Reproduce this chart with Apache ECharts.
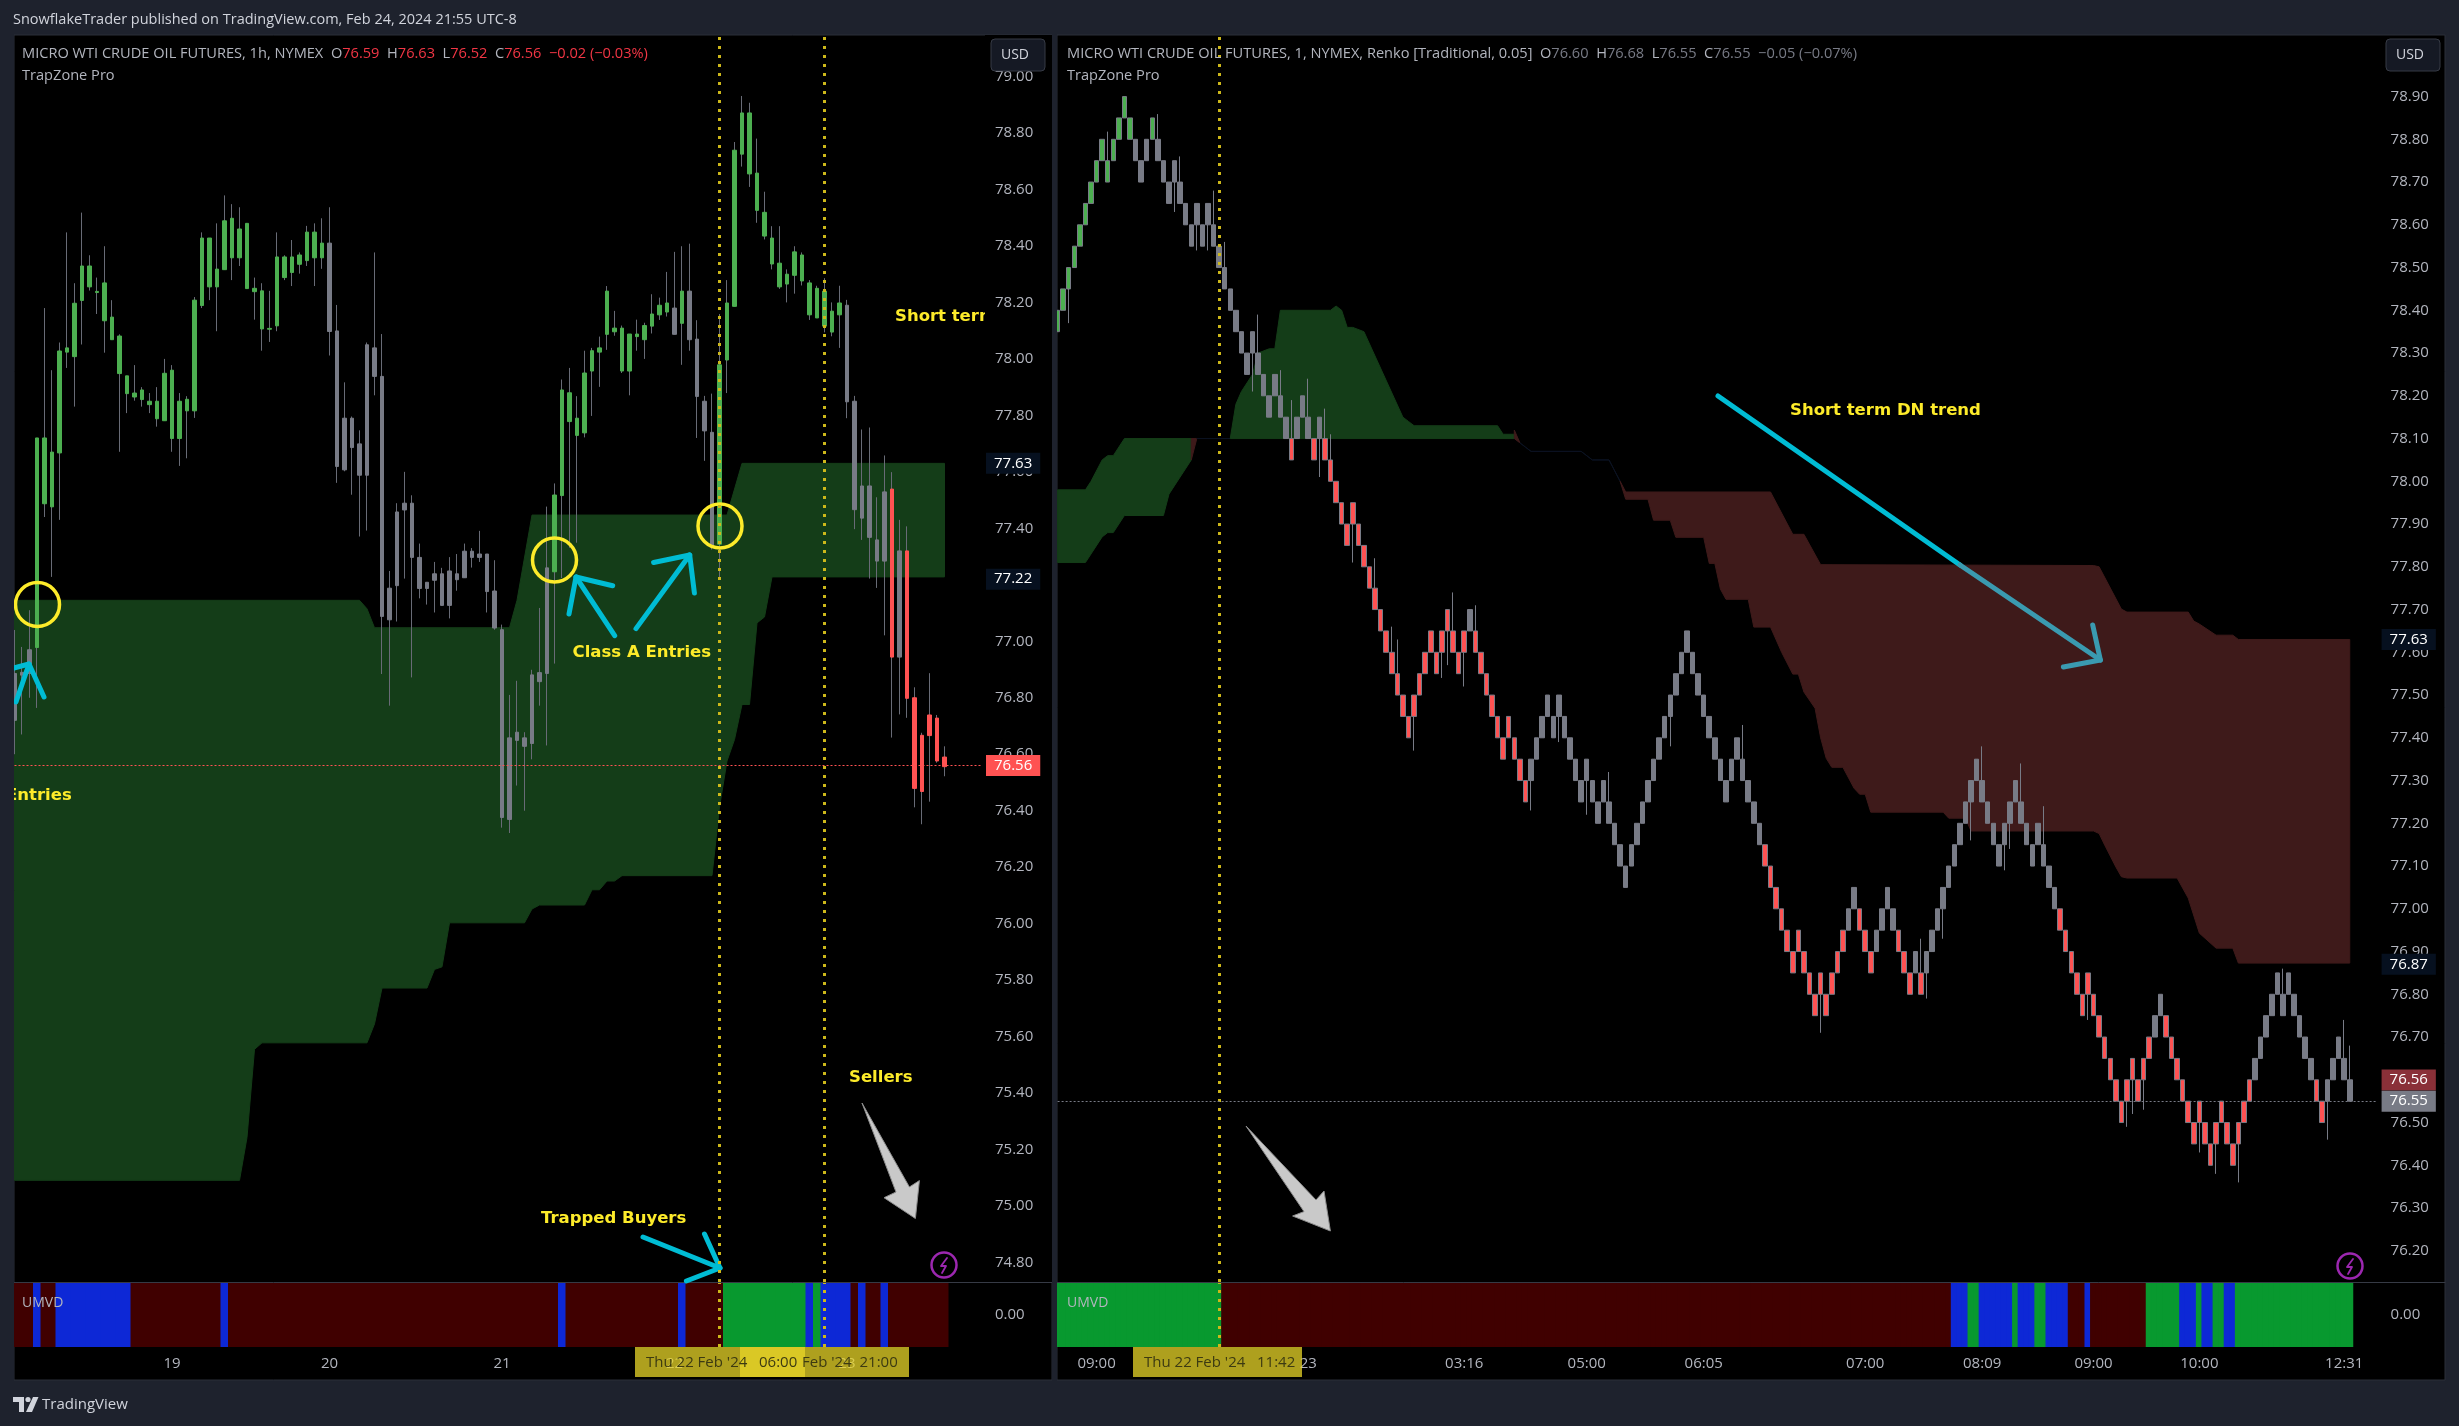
<!DOCTYPE html>
<html>
<head>
<meta charset="utf-8">
<title>MICRO WTI CRUDE OIL FUTURES</title>
<style>
html, body { margin: 0; padding: 0; background: #1e222d; }
#main { width: 2459px; height: 1426px; }
</style>
<script src="https://cdn.jsdelivr.net/npm/echarts@6/dist/echarts.min.js"></script>
</head>
<body>
<div id="main"></div>
<script>
// ---- left chart, 1h candles: [body top, body bottom, high, low]
var hourlyBars = [
[76.886,76.72,77.04,76.60],[76.89,76.88,76.98,76.67],[76.97,76.886,77.11,76.80],[77.72,76.978,77.72,76.764],[77.72,77.487,78.18,77.44],
[77.67,77.476,77.96,77.228],[78.028,77.667,78.058,77.43],[78.039,78.024,78.448,77.968],[78.197,78.008,78.268,77.831],[78.329,78.207,78.518,78.051],
[78.329,78.255,78.367,78.242],[78.239,78.235,78.288,78.159],[78.269,78.135,78.399,78.022],[78.148,78.068,78.208,78.068],[78.081,77.948,78.087,77.671],
[77.94,77.877,77.94,77.808],[77.879,77.865,77.978,77.852],[77.89,77.856,77.90,77.831],[77.85,77.838,77.879,77.808],[77.85,77.788,77.90,77.76],
[77.949,77.781,78.0,77.781],[77.96,77.718,77.978,77.671],[77.85,77.718,77.879,77.621],[77.857,77.816,77.868,77.648],[78.208,77.816,78.219,77.791],
[78.428,78.189,78.448,78.18],[78.428,78.255,78.428,78.208],[78.318,78.255,78.48,78.098],[78.489,78.316,78.579,78.316],[78.498,78.358,78.548,78.279],
[78.46,78.358,78.537,78.329],[78.48,78.249,78.48,78.249],[78.25,78.238,78.288,78.139],[78.241,78.106,78.268,78.029],[78.108,78.105,78.241,78.06],
[78.361,78.117,78.448,78.098],[78.361,78.288,78.367,78.279],[78.361,78.306,78.421,78.258],[78.368,78.335,78.377,78.302],[78.449,78.348,78.471,78.329],
[78.449,78.358,78.48,78.258],[78.41,78.358,78.498,78.319],[78.41,78.097,78.537,78.012],[78.099,77.619,78.191,77.561],[77.79,77.607,77.917,77.602],
[77.79,77.686,77.796,77.519],[77.699,77.588,77.747,77.371],[78.05,77.588,78.058,77.392],[78.039,77.938,78.377,77.871],[77.938,77.088,78.088,76.884],
[77.188,77.076,77.249,76.772],[77.458,77.197,77.489,77.07],[77.489,77.465,77.6,77.222],[77.489,77.297,77.517,76.872],[77.297,77.187,77.346,77.152],
[77.209,77.187,77.209,77.13],[77.239,77.216,77.281,77.102],[77.239,77.127,77.26,77.127],[77.249,77.127,77.298,77.081],[77.239,77.218,77.309,77.179],
[77.319,77.225,77.346,77.225],[77.319,77.297,77.33,77.261],[77.309,77.297,77.391,77.281],[77.309,77.176,77.309,77.102],[77.178,77.047,77.287,77.041],
[77.041,76.376,77.059,76.34],[76.658,76.369,76.81,76.321],[76.678,76.649,76.86,76.489],[76.658,76.628,76.678,76.4],[76.881,76.638,76.899,76.582],
[76.889,76.857,77.118,76.772],[77.26,76.886,77.477,76.631],[77.518,77.246,77.559,76.921],[77.89,77.516,77.927,77.224],[77.88,77.778,77.968,77.331],
[77.79,77.729,77.868,77.349],[77.95,77.738,78.029,77.722],[78.029,77.957,78.039,77.798],[78.039,78.024,78.079,77.901],[78.24,78.087,78.258,78.032],
[78.109,78.096,78.17,78.082],[78.109,77.957,78.118,77.95],[78.088,77.957,78.088,77.871],[78.088,78.079,78.139,78.029],[78.118,78.068,78.128,78.0],
[78.159,78.116,78.229,78.09],[78.19,78.156,78.217,78.138],[78.198,78.166,78.308,78.15],[78.18,78.087,78.379,78.087],[78.24,78.126,78.399,77.979],
[78.24,78.068,78.408,78.029],[78.07,77.867,78.137,77.72],[77.85,77.745,77.869,77.639],[77.74,77.339,77.877,77.325],[77.979,77.344,78.159,77.227],
[78.198,77.996,78.279,77.879],[78.739,78.186,78.768,78.186],[78.871,78.725,78.931,78.681],[78.871,78.655,78.907,78.609],[78.658,78.526,78.78,78.482],
[78.519,78.435,78.592,78.423],[78.428,78.336,78.47,78.317],[78.339,78.255,78.47,78.248],[78.3,78.265,78.317,78.2],[78.379,78.296,78.399,78.231],
[78.368,78.276,78.377,78.26],[78.269,78.156,78.279,78.138],[78.25,78.145,78.259,78.145],[78.24,78.116,78.286,78.094],[78.169,78.095,78.2,78.08],
[78.198,78.156,78.259,78.039],[78.19,77.848,78.209,77.79],[77.85,77.466,77.869,77.397],[77.55,77.436,77.75,77.359],[77.55,77.368,77.757,77.222],
[77.359,77.284,77.51,77.189],[77.529,77.284,77.658,77.021],[77.539,76.944,77.599,76.659],[77.32,76.944,77.43,76.741],[77.32,76.798,77.407,76.729],
[76.8,76.479,76.837,76.412],[76.667,76.468,76.676,76.352],[76.739,76.666,76.887,76.432],[76.728,76.576,76.739,76.57],[76.59,76.556,76.628,76.522]
];
// trend state of the candles, as runs of [count, state]
var hourlyStateRuns = [[3,'flat'],[39,'up'],[30,'flat'],[16,'up'],[1,'flat'],[1,'up'],[4,'flat'],[17,'up'],[6,'flat'],[1,'down'],[1,'flat'],[6,'down']];
var hourlyUmvdRuns = [[3,'sell'],[1,'mid'],[2,'sell'],[10,'mid'],[12,'sell'],[1,'mid'],[44,'sell'],[1,'mid'],[15,'sell'],[1,'mid'],[5,'sell'],[11,'buy'],[1,'mid'],[1,'buy'],[4,'mid'],[1,'sell'],[1,'mid'],[2,'sell'],[1,'mid'],[8,'sell']];
var hourlyZoneUpper = [[0,77.145],[46,77.145],[47,77.115],[48,77.048],[66,77.048],[67,77.145],[69,77.447],[95,77.447],[97,77.63],[124,77.63]];
var hourlyZoneLower = [[0,75.091],[30,75.091],[31,75.243],[32,75.555],[33,75.578],[47,75.578],[48,75.645],[49,75.772],[55,75.772],[56,75.838],[57,75.847],[58,76.003],[68,76.003],[69,76.052],[70,76.066],[76,76.066],[77,76.12],[78,76.12],[79,76.151],[80,76.151],[81,76.17],[93,76.17],[94,76.413],[95,76.576],[96,76.652],[97,76.776],[98,76.776],[99,77.065],[100,77.086],[101,77.228],[124,77.228]];
var hourlyTicks = [74.8,75,75.2,75.4,75.6,75.8,76,76.2,76.4,76.6,76.8,77,77.2,77.4,77.6,77.8,78,78.2,78.4,78.6,78.8,79];
var hourlyTimeLabels = {21:'19',42:'20',65:'21',88:'22',111:'23'};
var hourlyCursors = [94,108];

// ---- right chart, Renko 0.05: lower edge of each brick
var renkoBottoms = [
78.35,78.40,78.45,78.50,78.55,78.60,78.65,78.70,78.75,78.70,78.75,78.80,78.85,78.80,78.75,78.70,78.75,78.80,78.75,78.70,
78.65,78.70,78.65,78.60,78.55,78.60,78.55,78.60,78.55,78.50,78.45,78.40,78.35,78.30,78.25,78.30,78.25,78.20,78.15,78.20,
78.15,78.10,78.05,78.10,78.15,78.10,78.05,78.10,78.05,78.00,77.95,77.90,77.85,77.90,77.85,77.80,77.75,77.70,77.65,77.60,
77.55,77.50,77.45,77.40,77.45,77.50,77.55,77.60,77.55,77.60,77.65,77.60,77.55,77.60,77.65,77.60,77.55,77.50,77.45,77.40,
77.35,77.40,77.35,77.30,77.25,77.30,77.35,77.40,77.45,77.40,77.45,77.40,77.35,77.30,77.25,77.30,77.25,77.20,77.25,77.20,
77.15,77.10,77.05,77.10,77.15,77.20,77.25,77.30,77.35,77.40,77.45,77.50,77.55,77.60,77.55,77.50,77.45,77.40,77.35,77.30,
77.25,77.30,77.35,77.30,77.25,77.20,77.15,77.10,77.05,77.00,76.95,76.90,76.85,76.90,76.85,76.80,76.75,76.80,76.75,76.80,
76.85,76.90,76.95,77.00,76.95,76.90,76.85,76.90,76.95,77.00,76.95,76.90,76.85,76.80,76.85,76.80,76.85,76.90,76.95,77.00,
77.05,77.10,77.15,77.20,77.25,77.30,77.25,77.20,77.15,77.10,77.15,77.20,77.25,77.20,77.15,77.10,77.15,77.10,77.05,77.00,
76.95,76.90,76.85,76.80,76.75,76.80,76.75,76.70,76.65,76.60,76.55,76.50,76.55,76.60,76.55,76.60,76.65,76.70,76.75,76.70,
76.65,76.60,76.55,76.50,76.45,76.50,76.45,76.40,76.45,76.50,76.45,76.40,76.45,76.50,76.55,76.60,76.65,76.70,76.75,76.80,
76.75,76.80,76.75,76.70,76.65,76.60,76.55,76.50,76.55,76.60,76.65,76.60,76.55
];
var renkoBrick = 0.05;
// wick end by brick index, only bricks that have one
var renkoWicks = {2:78.37,9:78.818,18:78.859,21:78.63,22:78.76,25:78.54,27:78.54,28:78.68,30:78.56,35:78.21,36:78.39,40:78.26,42:78.19,45:78.24,47:78.01,48:78.17,49:78.11,53:77.81,57:77.82,60:77.66,61:77.63,64:77.37,69:77.54,70:77.57,71:77.74,73:77.52,75:77.71,85:77.23,90:77.39,95:77.22,99:77.32,110:77.38,123:77.43,137:76.71,155:76.93,156:76.79,159:76.93,164:77.16,166:77.38,170:77.09,171:77.14,173:77.34,177:77.24,185:76.74,192:76.49,193:76.52,195:76.53,205:76.43,208:76.38,212:76.36,220:76.86,228:76.46,231:76.74,232:76.68};
var renkoStateRuns = [[14,'up'],[3,'flat'],[1,'up'],[24,'flat'],[1,'down'],[3,'flat'],[1,'down'],[1,'flat'],[26,'down'],[1,'flat'],[10,'down'],[42,'flat'],[15,'down'],[2,'flat'],[3,'down'],[4,'flat'],[3,'down'],[1,'flat'],[1,'down'],[24,'flat'],[17,'down'],[2,'flat'],[16,'down'],[11,'flat'],[2,'down'],[5,'flat']];
var renkoUmvdRuns = [[30,'buy'],[131,'sell'],[3,'mid'],[2,'buy'],[6,'mid'],[1,'buy'],[3,'mid'],[2,'buy'],[4,'mid'],[3,'sell'],[1,'mid'],[10,'sell'],[6,'buy'],[3,'mid'],[1,'buy'],[2,'mid'],[2,'buy'],[2,'mid'],[21,'buy']];
var renkoZoneAUpper = [[0,77.98],[5,77.98],[6,78.00],[8,78.05],[9,78.06],[10,78.06],[12,78.10],[24,78.10]];
var renkoZoneALower = [[0,77.81],[5,77.81],[6,77.83],[8,77.87],[9,77.88],[10,77.88],[12,77.92],[19,77.92],[20,77.97],[22,78.01],[24,78.05]];
var renkoFlipAUpper = [[24,78.10],[25,78.10]];
var renkoFlipALower = [[24,78.05],[25,78.10]];
var renkoThinA = [[25,78.10],[31,78.10]];
var renkoZoneBUpper = [[31,78.10],[32,78.18],[33,78.21],[35,78.25],[36,78.30],[38,78.31],[39,78.31],[40,78.40],[49,78.40],[50,78.41],[51,78.40],[52,78.36],[53,78.36],[55,78.35],[62,78.15],[63,78.14],[64,78.13],[79,78.13],[80,78.11],[82,78.11]];
var renkoZoneBLower = [[31,78.10],[82,78.10]];
var renkoFlipBUpper = [[82,78.12],[83,78.09]];
var renkoFlipBLower = [[82,78.10],[83,78.09]];
var renkoThinB = [[83,78.09],[84,78.08],[85,78.07],[94,78.07],[96,78.05],[99,78.05],[101,78.00]];
var renkoZoneCUpper = [[101,78.00],[102,77.975],[128,77.975],[132,77.876],[134,77.876],[137,77.805],[186,77.803],[187,77.80],[191,77.701],[192,77.694],[203,77.694],[204,77.673],[205,77.666],[208,77.64],[211,77.64],[212,77.63],[232,77.63]];
var renkoZoneCLower = [[101,78.00],[102,77.958],[106,77.958],[107,77.909],[110,77.909],[111,77.869],[116,77.869],[117,77.808],[118,77.808],[119,77.748],[120,77.724],[124,77.724],[125,77.659],[128,77.659],[130,77.60],[132,77.549],[133,77.549],[134,77.507],[136,77.469],[137,77.40],[138,77.352],[139,77.331],[141,77.331],[143,77.282],[144,77.268],[145,77.268],[146,77.226],[159,77.226],[160,77.212],[163,77.212],[164,77.182],[186,77.182],[187,77.176],[188,77.149],[190,77.098],[191,77.075],[192,77.072],[201,77.072],[203,77.025],[205,76.943],[208,76.908],[211,76.908],[212,76.873],[232,76.873]];
var renkoTicks = [76.2,76.3,76.4,76.5,76.6,76.7,76.8,76.9,77,77.1,77.2,77.3,77.4,77.5,77.6,77.7,77.8,77.9,78,78.1,78.2,78.3,78.4,78.5,78.6,78.7,78.8,78.9];
var renkoTimeLabels = {7:'09:00',45:'23',73:'03:16',95:'05:00',116:'06:05',145:'07:00',166:'08:09',186:'09:00',205:'10:00',231:'12:31'};
var renkoCursors = [29];

(function () {
    'use strict';
    var myChart = echarts.init(document.getElementById('main'));

    var PAGE = '#1e222d', FRAME = '#2a2e39', AXIS_TEXT = '#b2b5be';
    var CANDLE = { up: '#4caf50', flat: '#787b86', down: '#ff5252' };
    var UMVD = { sell: '#400000', mid: '#0d28d6', buy: '#08992f' };
    var ZONE_UP = '#143d18', ZONE_DOWN = '#3e1a1a', ZONE_THIN = '#0b1221';
    var CURSOR = '#cdb81a', NOTE = '#fdeb2a', ARROW = '#00bcd4', ARROW_DIM = '#3a9ab0';
    var FONT = '"Open Sans", sans-serif', NOTE_FONT = '"DejaVu Sans", sans-serif';

    function expandRuns(runs) {
        var out = [];
        runs.forEach(function (r) {
            for (var i = 0; i < r[0]; i++) out.push(r[1]);
        });
        return out;
    }
    function categories(n, labels) {
        var out = [];
        for (var i = 0; i < n; i++) out.push(labels[i] || '');
        return out;
    }

    var hourlyStates = expandRuns(hourlyStateRuns);
    var renkoStates = expandRuns(renkoStateRuns);
    var hourlyCats = categories(130, hourlyTimeLabels);
    var renkoCats = categories(238, renkoTimeLabels);

    // 4 grids: main + UMVD strip, twice
    var grid = [
        { left: 14.5, width: 967.5, top: 35, height: 1247 },
        { left: 14.5, width: 967.5, top: 1283, height: 64 },
        { left: 1057.6, width: 1320, top: 35, height: 1247 },
        { left: 1057.6, width: 1320, top: 1283, height: 64 }
    ];

    function xAxis(index, cats, visible) {
        return {
            type: 'category', gridIndex: index, data: cats, boundaryGap: false,
            axisLine: { show: false }, axisTick: { show: false }, splitLine: { show: false },
            axisLabel: {
                show: visible, interval: 0, color: AXIS_TEXT, fontFamily: FONT, fontSize: 15, margin: 9, hideOverlap: false
            }
        };
    }
    function yAxis(index, min, max, ticks) {
        return {
            type: 'value', gridIndex: index, position: 'right', min: min, max: max, z: 12,
            axisLine: { show: false }, axisTick: { show: false }, splitLine: { show: false },
            axisLabel: {
                customValues: ticks, color: AXIS_TEXT, fontFamily: FONT, fontSize: 15, margin: 13, padding: [2, 0, 0, 0],
                formatter: function (v) { return v.toFixed(2); }
            }
        };
    }

    function zoneSeries(axisIndex, zones) {
        return {
            type: 'custom', xAxisIndex: axisIndex, yAxisIndex: axisIndex, z: 1, silent: true, clip: true,
            data: zones.map(function (z, i) { return [i, z.upper[0][1]]; }),
            renderItem: function (params, api) {
                var z = zones[params.dataIndex];
                var pts = z.upper.map(function (p) { return api.coord(p); })
                    .concat(z.lower.slice().reverse().map(function (p) { return api.coord(p); }));
                return {
                    type: 'polygon', shape: { points: pts },
                    style: { fill: z.color, stroke: z.color, lineWidth: 1 }
                };
            }
        };
    }

    // horizontal price tags + dotted lines sitting on the axis
    function priceLine(value, text, bg, lineColor, offsetY) {
        return {
            yAxis: value,
            lineStyle: { color: lineColor || 'transparent', width: 1, type: [2, 2], opacity: 1 },
            label: {
                show: true, position: 'end', distance: 4, formatter: text, color: '#fff', fontFamily: FONT, fontSize: 15,
                backgroundColor: bg, padding: [3, 8, 3, 8], offset: [0, offsetY || 0]
            }
        };
    }
    function cursorLine(i) {
        return {
            xAxis: i,
            lineStyle: { color: CURSOR, width: 3, type: [3, 6], opacity: 1 },
            label: { show: false }
        };
    }
    function markLines(items) {
        return { silent: true, symbol: 'none', z: 14, animation: false, data: items };
    }

    function umvdSeries(axisIndex, runs, width, cursors) {
        var states = expandRuns(runs);
        function half(sign) {
            return states.map(function (s) { return { value: sign, itemStyle: { color: UMVD[s] } }; });
        }
        var base = {
            type: 'bar', xAxisIndex: axisIndex, yAxisIndex: axisIndex, stack: 'umvd' + axisIndex,
            barWidth: width, silent: true
        };
        return [
            Object.assign({}, base, { data: half(1), markLine: markLines(cursors.map(cursorLine)) }),
            Object.assign({}, base, { data: half(-1) })
        ];
    }

    var series = [];

    // left chart
    series.push(zoneSeries(0, [{ upper: hourlyZoneUpper, lower: hourlyZoneLower, color: ZONE_UP }]));
    series.push({
        type: 'candlestick', xAxisIndex: 0, yAxisIndex: 0, barWidth: 1, silent: true, z: 2,
        itemStyle: { color: 'transparent', color0: 'transparent', borderColor: '#686b76', borderColor0: '#686b76', borderWidth: 1 },
        data: hourlyBars.map(function (b) { return [b[1], b[0], b[3], b[2]]; })
    });
    series.push({
        type: 'candlestick', xAxisIndex: 0, yAxisIndex: 0, barWidth: 4, silent: true, z: 3,
        data: hourlyBars.map(function (b, i) {
            var c = CANDLE[hourlyStates[i]];
            return {
                value: [b[1], b[0], b[1], b[0]],
                itemStyle: { color: c, color0: c, borderColor: c, borderColor0: c, borderColorDoji: c, borderWidth: 1 }
            };
        }),
        markLine: markLines(hourlyCursors.map(cursorLine).concat([
            priceLine(77.63, '77.63', '#06101f'),
            priceLine(77.22, '77.22', '#06101f'),
            priceLine(76.56, '76.56', '#ff5252', '#ff5252')
        ]))
    });
    series = series.concat(umvdSeries(1, hourlyUmvdRuns, 8, hourlyCursors));

    // right chart
    series.push(zoneSeries(2, [
        { upper: renkoZoneAUpper, lower: renkoZoneALower, color: ZONE_UP },
        { upper: renkoFlipAUpper, lower: renkoFlipALower, color: ZONE_DOWN },
        { upper: renkoThinA, lower: renkoThinA, color: ZONE_THIN },
        { upper: renkoZoneBUpper, lower: renkoZoneBLower, color: ZONE_UP },
        { upper: renkoFlipBUpper, lower: renkoFlipBLower, color: ZONE_DOWN },
        { upper: renkoThinB, lower: renkoThinB, color: ZONE_THIN },
        { upper: renkoZoneCUpper, lower: renkoZoneCLower, color: ZONE_DOWN }
    ]));
    series.push({
        type: 'candlestick', xAxisIndex: 2, yAxisIndex: 2, barWidth: 5, silent: true, z: 3,
        data: renkoBottoms.map(function (bottom, i) {
            var top = bottom + renkoBrick, c = CANDLE[renkoStates[i]];
            var wick = renkoWicks[i], high = top, low = bottom;
            if (wick !== undefined) {
                if (wick > top) high = wick; else low = wick;
            }
            return {
                value: [bottom, top, low, high],
                itemStyle: { color: c, color0: c, borderColor: CANDLE.flat, borderColor0: CANDLE.flat, borderWidth: 1 }
            };
        }),
        markLine: markLines(renkoCursors.map(cursorLine).concat([
            priceLine(77.63, '77.63', '#06101f'),
            priceLine(76.87, '76.87', '#06101f'),
            priceLine(76.56, '76.56', '#8a3038', null, -17),
            priceLine(76.55, '76.55', '#787b86', '#787b86')
        ]))
    });
    series = series.concat(umvdSeries(3, renkoUmvdRuns, 7, renkoCursors));

    // ---- drawn overlay: frame, headers, notes
    function rect(x, y, w, h, fill, z, stroke) {
        return { type: 'rect', silent: true, z: z, shape: { x: x, y: y, width: w, height: h }, style: { fill: fill, stroke: stroke || null, lineWidth: 1 } };
    }
    function label(x, y, text, color, size, z, extra) {
        return {
            type: 'text', silent: true, z: z || 10, x: x, y: y,
            style: Object.assign({ text: text, fill: color, font: (size || 15) + 'px ' + FONT, textVerticalAlign: 'middle' }, extra || {})
        };
    }
    function note(x, y, text) {
        return {
            type: 'text', silent: true, z: 10, x: x, y: y,
            style: { text: text, fill: NOTE, font: 'bold 16.5px ' + NOTE_FONT, textVerticalAlign: 'middle' }
        };
    }
    function line(points, color, width) {
        return {
            type: 'polyline', silent: true, z: 10, shape: { points: points },
            style: { stroke: color, lineWidth: width, fill: null, lineCap: 'round', lineJoin: 'round' }
        };
    }
    function ring(cx, cy, r) {
        return { type: 'circle', silent: true, z: 10, shape: { cx: cx, cy: cy, r: r }, style: { fill: null, stroke: NOTE, lineWidth: 3.5 } };
    }
    function grayArrow(points) {
        return { type: 'polygon', silent: true, z: 10, shape: { points: points }, style: { fill: '#c9c9c9', stroke: '#8d8d8d', lineWidth: 1 } };
    }
    function bolt(cx, cy) {
        return [
            { type: 'circle', silent: true, z: 10, shape: { cx: cx, cy: cy, r: 12.5 }, style: { fill: null, stroke: '#9c27b0', lineWidth: 2.5 } },
            line([[cx + 3, cy - 7], [cx - 3, cy + 1], [cx + 2, cy + 1], [cx - 2, cy + 8]], '#9c27b0', 1.8)
        ];
    }
    function usd(x) {
        return [
            { type: 'rect', silent: true, z: 16, shape: { x: x, y: 39, width: 54, height: 32, r: 4 }, style: { fill: '#151924', stroke: '#363a45', lineWidth: 1 } },
            label(x + 24, 55, 'USD', '#d1d4dc', 14, 17, { textAlign: 'center' })
        ];
    }
    function timeTag(x, w) {
        return rect(x, 1347, w, 30, 'rgba(232,214,40,0.75)', 13);
    }
    var headRich = {
        t: { fill: '#b2b5be', font: '14.6px ' + FONT },
        r: { fill: '#f23645', font: '14.6px ' + FONT },
        g: { fill: '#787b86', font: '14.6px ' + FONT }
    };

    var overlay = [
        // panes
        rect(14, 35, 1038, 1345, '#000', -10, FRAME),
        rect(1057, 35, 1388, 1345, '#000', -10, FRAME),
        // anything drawn past the pane edge or under the price scale is cut off
        rect(0, 35, 14, 1345, PAGE, 11),
        rect(985, 35, 67, 1247, '#000', 11),
        rect(1052, 35, 5, 1345, PAGE, 11),
        line([[14, 1282.5], [1052, 1282.5]], '#363a45', 1),
        line([[1057, 1282.5], [2445, 1282.5]], '#363a45', 1),

        label(13, 20, 'SnowflakeTrader published on TradingView.com, Feb 24, 2024 21:55 UTC-8', '#d1d4dc', 14.5, 10),
        {
            type: 'text', silent: true, z: 15, x: 22, y: 54,
            style: {
                text: '{t|MICRO WTI CRUDE OIL FUTURES, 1h, NYMEX  O}{r|76.59}{t|  H}{r|76.63}{t|  L}{r|76.52}{t|  C}{r|76.56  \u22120.02 (\u22120.03%)}',
                rich: headRich, textVerticalAlign: 'middle'
            }
        },
        label(22, 75.5, 'TrapZone Pro', '#b2b5be', 14.6, 15),
        {
            type: 'text', silent: true, z: 15, x: 1067, y: 54,
            style: {
                text: '{t|MICRO WTI CRUDE OIL FUTURES, 1, NYMEX, Renko [Traditional, 0.05]  O}{g|76.60}{t|  H}{g|76.68}{t|  L}{g|76.55}{t|  C}{g|76.55  \u22120.05 (\u22120.07%)}',
                rich: headRich, textVerticalAlign: 'middle'
            }
        },
        label(1067, 75.5, 'TrapZone Pro', '#b2b5be', 14.6, 15),
        label(22, 1303, 'UMVD', '#b2b5be', 14, 15),
        label(1067, 1303, 'UMVD', '#b2b5be', 14, 15),

        // yellow circles
        ring(37.5, 604.5, 22), ring(554.5, 560, 22), ring(720, 526, 22),

        // cyan arrows, left chart
        line([[614.7, 635.7], [576, 577]], ARROW, 5),
        line([[569, 614], [576, 577], [612.7, 585.7]], ARROW, 5),
        line([[636, 628.6], [689.7, 555]], ARROW, 5),
        line([[653.6, 562.5], [689.7, 555], [694.4, 593]], ARROW, 5),
        line([[10, 669], [29, 664], [44, 697]], ARROW, 5),
        line([[29, 664], [16, 702]], ARROW, 5),
        line([[643, 1237], [720, 1268]], ARROW, 5),
        line([[704.5, 1234], [720, 1268], [686.4, 1281]], ARROW, 5),

        // big arrow, right chart; dimmer where it crosses the zone
        line([[1718, 396], [1960, 565]], ARROW, 5),
        line([[1960, 565], [2100.4, 660]], ARROW_DIM, 5),
        line([[2092.7, 625], [2100.4, 660], [2063.4, 667]], ARROW_DIM, 5),

        // notes
        note(895, 317, 'Short term'),
        note(572.6, 652.7, 'Class A Entries'),
        note(6, 796, 'Entries'),
        note(849, 1078, 'Sellers'),
        note(541, 1218.5, 'Trapped Buyers'),
        note(1790, 411, 'Short term DN trend'),

        // gray arrows
        grayArrow([[862, 1103], [909.4, 1187], [919.4, 1180.6], [915.4, 1218.5], [884, 1197.7], [896, 1192]]),
        grayArrow([[1246, 1126], [1316, 1200], [1324, 1191], [1330.4, 1231], [1292.6, 1216], [1304, 1211.6]]),

        // cursor tags on the time scale
        timeTag(635, 170), timeTag(740, 169), timeTag(1133, 169),
        label(646, 1363, "Thu 22 Feb '24   06:00", '#3c3a12', 15, 14),
        label(802, 1363, "Feb '24  21:00", '#3c3a12', 15, 14),
        label(1144, 1363, "Thu 22 Feb '24   11:42", '#3c3a12', 15, 14),

        // TradingView mark
        { type: 'polygon', silent: true, z: 10, shape: { points: [[13, 1397], [24, 1397], [24, 1412], [19, 1412], [19, 1402], [13, 1402]] }, style: { fill: '#d1d4dc' } },
        { type: 'circle', silent: true, z: 10, shape: { cx: 28, cy: 1399.5, r: 2.6 }, style: { fill: '#d1d4dc' } },
        { type: 'polygon', silent: true, z: 10, shape: { points: [[33, 1397], [38.5, 1397], [32, 1412], [26, 1412]] }, style: { fill: '#d1d4dc' } },
        label(42, 1404.5, 'TradingView', '#d1d4dc', 15, 10)
    ].concat(bolt(944, 1265), bolt(2350, 1266), usd(991), usd(2386));

    var option = {
        backgroundColor: PAGE,
        animation: false,
        grid: grid,
        xAxis: [
            xAxis(0, hourlyCats, false), xAxis(1, hourlyCats, true),
            xAxis(2, renkoCats, false), xAxis(3, renkoCats, true)
        ],
        yAxis: [
            yAxis(0, 74.731, 79.147, hourlyTicks), yAxis(1, -1, 1, [0]),
            yAxis(2, 76.127, 79.044, renkoTicks), yAxis(3, -1, 1, [0])
        ],
        series: series,
        graphic: { elements: overlay }
    };

    myChart.setOption(option);
    window.addEventListener('resize', function () {
        myChart.resize();
    });
})();
</script>
</body>
</html>
